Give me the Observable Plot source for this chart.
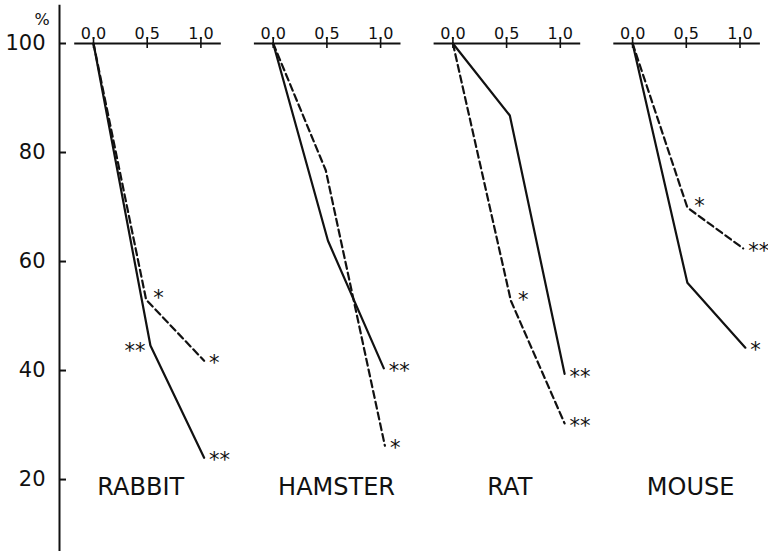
<!DOCTYPE html>
<html><head><meta charset="utf-8">
<script src="https://cdn.jsdelivr.net/npm/d3@7"></script>
<script src="https://cdn.jsdelivr.net/npm/@observablehq/plot@0.6"></script>
<style>html,body{margin:0;padding:0;background:#fff;}</style>
</head><body><div id="chart"></div>
<script>
// ---- data ----
const species = ["RABBIT", "HAMSTER", "RAT", "MOUSE"];
const xTicks = [0, 0.5, 1.0];
const yTicks = [20, 40, 60, 80, 100];
const solidDose  = [[0, 0.53, 1.03], [0, 0.51, 1.03], [0, 0.53, 1.04], [0, 0.51, 1.05]];
const solidPct   = [[100, 44.6, 24.0], [100, 63.8, 40.4], [100, 86.8, 39.4], [100, 56.1, 44.2]];
const solidSig   = [["", "**", "**"], ["", "", "**"], ["", "", "**"], ["", "", "*"]];
const dashedDose = [[0, 0.49, 1.03], [0, 0.49, 1.04], [0, 0.54, 1.04], [0, 0.51, 1.03]];
const dashedPct  = [[100, 53.0, 41.8], [100, 76.7, 26.2], [100, 52.8, 30.3], [100, 69.9, 62.4]];
const dashedSig  = [["", "*", "*"], ["", "", "*"], ["", "*", "**"], ["", "*", "**"]];
const sigOnLeft = [["RABBIT", "solid", 1]];

// ---- layout ----
const xDomain = [-0.3166, 1.2654];
const yDomain = [6.8, 100];
const axisLineExtent = [-0.175, 1.19];
const yAxisTop = 107;
const labelDose = [0.44, 0.59, 0.53, 0.54];
const labelPct = 18.5;
const font = "DejaVu Sans";

const rows = [];
species.forEach((s, i) => {
  solidDose[i].forEach((d, j) => rows.push({species: s, series: "solid", dose: d, pct: solidPct[i][j], sig: solidSig[i][j], j}));
  dashedDose[i].forEach((d, j) => rows.push({species: s, series: "dashed", dose: d, pct: dashedPct[i][j], sig: dashedSig[i][j], j}));
});
const isLeft = r => sigOnLeft.some(([s, se, j]) => s === r.species && se === r.series && j === r.j);
const sigRight = rows.filter(r => r.sig && !isLeft(r));
const sigLeft = rows.filter(r => r.sig && isLeft(r));

const chart = Plot.plot({
  width: 768,
  height: 551,
  marginLeft: 59,
  marginRight: 0,
  marginTop: 43,
  marginBottom: 0,
  style: {fontFamily: font, color: "#111", background: "#fff"},
  fx: {domain: species, paddingInner: 0.0545, paddingOuter: 0, round: false, axis: null},
  x: {domain: xDomain, axis: null},
  y: {domain: yDomain, axis: null},
  marks: [
    // y axis line & ticks (first panel only)
    Plot.ruleX([xDomain[0]], {fx: () => species[0], y1: yDomain[0], y2: yAxisTop, strokeWidth: 2, stroke: "#111"}),
    Plot.ruleY(yTicks, {y: d => d, fx: () => species[0], x1: xDomain[0], x2: xDomain[0], insetRight: -7, strokeWidth: 2, stroke: "#111"}),
    Plot.axisY({anchor: "left", ticks: yTicks, tickSize: 0, tickPadding: 14, fontSize: 21, label: null}),
    Plot.text(["%"], {fx: () => species[0], frameAnchor: "top-left", textAnchor: "start", lineAnchor: "bottom", dx: -25, dy: -19, fontSize: 16}),
    // top x axes in each panel
    Plot.ruleY([100], {x1: axisLineExtent[0], x2: axisLineExtent[1], strokeWidth: 2, stroke: "#111"}),
    Plot.ruleX(xTicks, {x: d => d, y1: 100, y2: 100, insetTop: -6, insetBottom: -5, strokeWidth: 1.6, stroke: "#111"}),
    Plot.axisX({anchor: "top", ticks: xTicks, tickSize: 0, tickPadding: 5, tickFormat: d3.format(".1f"), fontSize: 16, label: null}),
    // curves
    Plot.line(rows.filter(r => r.series === "solid"), {x: "dose", y: "pct", fx: "species", stroke: "#111", strokeWidth: 2.2}),
    Plot.line(rows.filter(r => r.series === "dashed"), {x: "dose", y: "pct", fx: "species", stroke: "#111", strokeWidth: 2.2, strokeDasharray: "7,4"}),
    // significance marks
    Plot.text(sigRight.filter(r => r.j === 1), {x: "dose", y: "pct", fx: "species", text: "sig", textAnchor: "start", dx: 7, dy: -1, fontSize: 21}),
    Plot.text(sigRight.filter(r => r.j === 2), {x: "dose", y: "pct", fx: "species", text: "sig", textAnchor: "start", dx: 5, dy: 3, fontSize: 21}),
    Plot.text(sigLeft, {x: "dose", y: "pct", fx: "species", text: "sig", textAnchor: "end", dx: -5, dy: 6, fontSize: 21}),
    // species labels
    Plot.text(species, {fx: d => d, x: (d, i) => labelDose[i], y: () => labelPct, text: d => d, fontSize: 24, lineAnchor: "middle"})
  ]
});
document.getElementById("chart").appendChild(chart);
</script>
</body></html>
